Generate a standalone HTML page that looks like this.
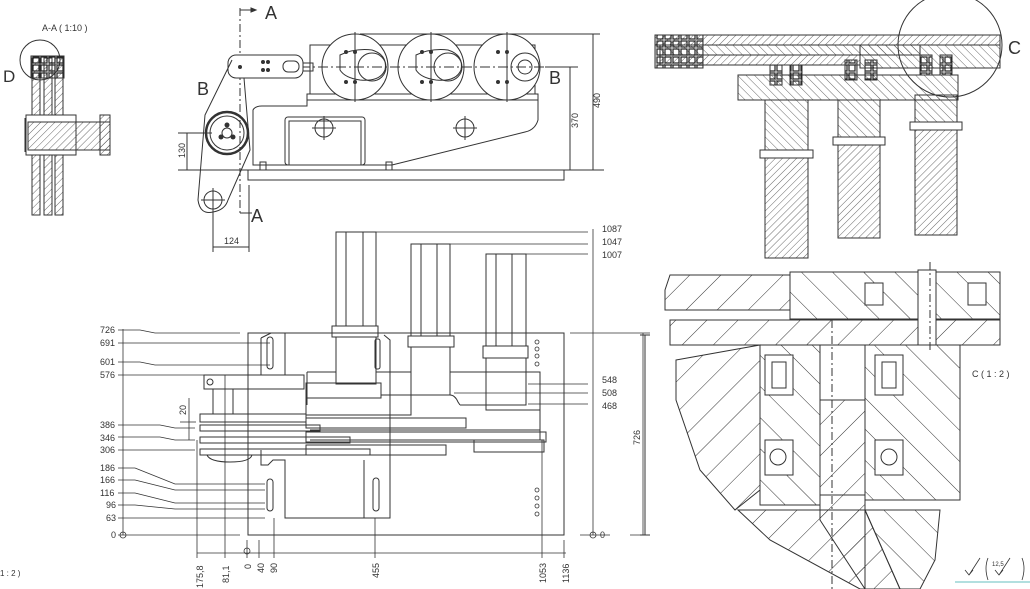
<!DOCTYPE html>
<html><head><meta charset="utf-8"><style>
html,body{margin:0;padding:0;background:#fff;}
svg{display:block;font-family:"Liberation Sans",sans-serif;}
</style></head><body>
<svg width="1030" height="589" viewBox="0 0 1030 589" xmlns="http://www.w3.org/2000/svg">
<defs>
<pattern id="h1" width="5" height="5" patternUnits="userSpaceOnUse" patternTransform="rotate(45)"><line x1="0" y1="0" x2="0" y2="5" stroke="#444" stroke-width="0.8"/></pattern>
<pattern id="h2" width="6" height="6" patternUnits="userSpaceOnUse" patternTransform="rotate(-45)"><line x1="0" y1="0" x2="0" y2="6" stroke="#444" stroke-width="0.8"/></pattern>
<pattern id="h3" width="22" height="22" patternUnits="userSpaceOnUse" patternTransform="rotate(45)"><line x1="0" y1="0" x2="0" y2="22" stroke="#333" stroke-width="1"/></pattern>
<pattern id="h4" width="22" height="22" patternUnits="userSpaceOnUse" patternTransform="rotate(-45)"><line x1="0" y1="0" x2="0" y2="22" stroke="#333" stroke-width="1"/></pattern>
<pattern id="bx" width="8" height="8" patternUnits="userSpaceOnUse"><rect x="1" y="1" width="6" height="6" fill="none" stroke="#222" stroke-width="1.2"/></pattern>
</defs>
<g fill="none" stroke="#333" stroke-width="1">

<!-- ===== A-A section (left) ===== -->
<circle cx="40" cy="60" r="20"/>
<rect x="32" y="58" width="8" height="157" fill="url(#h1)"/>
<rect x="44" y="58" width="8" height="157" fill="url(#h1)"/>
<rect x="55" y="58" width="8" height="157" fill="url(#h1)"/>
<rect x="31" y="56" width="33" height="22" fill="url(#bx)"/>
<rect x="26" y="115" width="50" height="40" fill="#fff"/>
<rect x="28" y="122" width="82" height="28" fill="url(#h1)"/>
<rect x="100" y="115" width="10" height="40" fill="url(#h1)"/>
<line x1="25" y1="118" x2="25" y2="152"/>

<!-- ===== Top elevation view ===== -->
<line x1="240" y1="8" x2="240" y2="215" stroke-dasharray="8,3,2,3"/>
<line x1="240" y1="10" x2="256" y2="10"/><path d="M256 10 l-5 -2 v4z" fill="#333"/>
<line x1="240" y1="213" x2="252" y2="213"/>
<rect x="248" y="170" width="316" height="10"/>
<path d="M253 165 L253 110 Q255 106 262 106 L307 106 L307 100 L538 100 L538 120 Q535 130 525 132 L392 165 Z"/>
<rect x="285" y="117" width="80" height="48" rx="3"/>
<rect x="289" y="121" width="72" height="44"/>
<circle cx="324" cy="128" r="9"/><line x1="312" y1="128" x2="336" y2="128"/><line x1="324" y1="116" x2="324" y2="140"/>
<circle cx="465" cy="128" r="9"/><line x1="453" y1="128" x2="477" y2="128"/><line x1="465" y1="116" x2="465" y2="140"/>
<rect x="260" y="162" width="6" height="8"/><rect x="386" y="162" width="6" height="8"/>
<rect x="307" y="94" width="231" height="6"/>
<rect x="310" y="45" width="225" height="49"/>
<g fill="#fff">
<circle cx="355" cy="67" r="33"/><circle cx="431" cy="67" r="33"/><circle cx="507" cy="67" r="33"/>
</g>
<circle cx="372" cy="67" r="14"/><circle cx="448" cy="67" r="14"/><circle cx="525" cy="67" r="14"/><circle cx="525" cy="67" r="7"/>
<path d="M340 55 Q355 48 372 50 Q388 55 385 70 Q380 82 360 80 Q345 78 340 70Z"/>
<path d="M416 55 Q431 48 448 50 Q464 55 461 70 Q456 82 436 80 Q421 78 416 70Z"/>
<line x1="355" y1="32" x2="355" y2="102"/><line x1="431" y1="32" x2="431" y2="102"/><line x1="507" y1="32" x2="507" y2="102"/>
<line x1="300" y1="67" x2="545" y2="67" stroke-dasharray="10,3,2,3"/>
<g fill="#333" stroke="none">
<circle cx="346" cy="52" r="2"/><circle cx="355" cy="52" r="2"/><circle cx="346" cy="82" r="2"/><circle cx="355" cy="82" r="2"/>
<circle cx="422" cy="52" r="2"/><circle cx="431" cy="52" r="2"/><circle cx="422" cy="82" r="2"/><circle cx="431" cy="82" r="2"/>
<circle cx="498" cy="52" r="2"/><circle cx="507" cy="52" r="2"/><circle cx="498" cy="82" r="2"/><circle cx="507" cy="82" r="2"/>
</g>
<rect x="228" y="55" width="75" height="23" rx="8" fill="#fff"/>
<rect x="303" y="63" width="10" height="8"/>
<rect x="283" y="61" width="16" height="11" rx="5"/>
<g fill="#333" stroke="none"><circle cx="263" cy="62" r="2"/><circle cx="268" cy="62" r="2"/><circle cx="263" cy="70" r="2"/><circle cx="268" cy="70" r="2"/><circle cx="240" cy="67" r="2"/></g>
<path d="M232 60 L205 115 L198 200 Q200 215 213 212 Q225 210 228 200 L250 150 L244 78"/>
<circle cx="227" cy="133" r="21" stroke-width="2.5"/>
<circle cx="227" cy="133" r="17"/>
<circle cx="227" cy="133" r="5"/>
<g fill="#333" stroke="none"><circle cx="227" cy="125" r="2.5"/><circle cx="221" cy="137" r="2.5"/><circle cx="233" cy="137" r="2.5"/></g>
<circle cx="213" cy="200" r="9"/><line x1="201" y1="200" x2="225" y2="200"/><line x1="213" y1="188" x2="213" y2="212"/>
<line x1="360" y1="34" x2="600" y2="34"/>
<line x1="545" y1="67" x2="578" y2="67"/>
<line x1="525" y1="170" x2="604" y2="170"/>
<line x1="593" y1="34" x2="593" y2="170"/>
<line x1="570" y1="67" x2="570" y2="170"/>
<line x1="178" y1="133" x2="212" y2="133"/>
<line x1="178" y1="170" x2="248" y2="170"/>
<line x1="187" y1="133" x2="187" y2="170"/>
<line x1="213" y1="210" x2="213" y2="252"/><line x1="249" y1="185" x2="249" y2="252"/>
<line x1="213" y1="247" x2="249" y2="247"/>
</g>
<g fill="#333" font-size="10">
<text x="42" y="31" font-size="9">A-A ( 1:10 )</text>
<text x="3" y="82" font-size="17">D</text>
<text x="265" y="19" font-size="18">A</text>
<text x="251" y="222" font-size="18">A</text>
<text x="197" y="95" font-size="18">B</text>
<text x="549" y="84" font-size="18">B</text>
<text x="224" y="244" font-size="9">124</text>
<text transform="translate(600,108) rotate(-90)" font-size="9">490</text>
<text transform="translate(578,128) rotate(-90)" font-size="9">370</text>
<text transform="translate(185,158) rotate(-90)" font-size="9">130</text>
</g>

<!-- ===== Plan view (bottom-left) ===== -->
<g fill="none" stroke="#333" stroke-width="1">
<rect x="248" y="333" width="316" height="202"/>
<path d="M261 338 L271 333 L285 333 L285 375 M261 338 L261 375"/>
<path d="M261 450 L261 465 L268 465 L273 460 L285 460 L285 518 L390 518 L390 340 L384 335"/>
<line x1="364" y1="460" x2="364" y2="518"/>
<rect x="336" y="232" width="40" height="94"/><line x1="346" y1="232" x2="346" y2="326"/><line x1="363" y1="232" x2="363" y2="326"/>
<rect x="332" y="326" width="46" height="11"/>
<rect x="336" y="337" width="40" height="47"/>
<rect x="411" y="244" width="39" height="92"/><line x1="421" y1="244" x2="421" y2="336"/><line x1="437" y1="244" x2="437" y2="336"/>
<rect x="408" y="336" width="46" height="11"/>
<rect x="411" y="347" width="39" height="48"/>
<rect x="486" y="254" width="40" height="92"/><line x1="496" y1="254" x2="496" y2="346"/><line x1="512" y1="254" x2="512" y2="346"/>
<rect x="483" y="346" width="45" height="12"/>
<rect x="486" y="358" width="40" height="47"/>
<path d="M307 372 L336 372 M376 372 L411 372 M450 372 L540 372 L540 440 M307 372 L307 405"/>
<rect x="306" y="383" width="75" height="15"/>
<path d="M306 398 L306 415 L411 415 L411 395 L450 395 Q455 395 458 402 L460 405"/>
<path d="M381 383 L381 395 L411 395"/>
<path d="M460 405 L486 405 L486 410 L540 410"/>
<path d="M310 430 L540 430 M310 440 L540 440"/>
<rect x="204" y="375" width="100" height="14"/>
<circle cx="210" cy="382" r="3"/>
<rect x="213" y="389" width="20" height="25"/>
<rect x="200" y="414" width="106" height="8"/>
<rect x="200" y="425" width="120" height="6"/>
<rect x="200" y="437" width="150" height="6"/>
<rect x="200" y="449" width="170" height="6"/>
<rect x="306" y="418" width="160" height="10"/>
<rect x="306" y="432" width="240" height="10"/>
<rect x="306" y="445" width="140" height="10"/>
<rect x="474" y="440" width="70" height="12"/>
<path d="M207 455 Q210 462 230 462 Q250 462 252 455"/>
<rect x="267" y="337" width="6" height="32" rx="3"/>
<rect x="267" y="479" width="6" height="32" rx="3"/>
<rect x="373" y="478" width="6" height="33" rx="3"/>
<rect x="375" y="339" width="5" height="30" rx="2"/>
</g>
<g fill="none" stroke="#333" stroke-width="0.8">
<circle cx="537" cy="342" r="2"/><circle cx="537" cy="349" r="2"/><circle cx="537" cy="356" r="2"/><circle cx="537" cy="364" r="2"/>
<circle cx="537" cy="490" r="2"/><circle cx="537" cy="498" r="2"/><circle cx="537" cy="506" r="2"/><circle cx="537" cy="514" r="2"/>
</g>
<g fill="none" stroke="#333" stroke-width="0.8">
<line x1="123" y1="329" x2="123" y2="535"/>
<line x1="118" y1="535" x2="240" y2="535"/><circle cx="123" cy="535" r="3"/>
<line x1="118" y1="330" x2="140" y2="330"/><path d="M140 330 L155 333 L240 333"/>
<line x1="118" y1="343" x2="270" y2="343"/>
<line x1="118" y1="362" x2="140" y2="362"/><path d="M140 362 L155 365 L270 365"/>
<line x1="118" y1="375" x2="215" y2="375"/>
<line x1="118" y1="425" x2="160" y2="425"/><path d="M160 425 L175 428 L195 428"/>
<line x1="118" y1="437" x2="160" y2="437"/><path d="M160 437 L175 440 L195 440"/>
<line x1="118" y1="450" x2="195" y2="450"/>
<line x1="118" y1="468" x2="135" y2="468"/><path d="M135 468 L175 484 L265 484"/>
<line x1="118" y1="480" x2="135" y2="480"/><path d="M135 480 L175 490 L265 490"/>
<line x1="118" y1="493" x2="135" y2="493"/><path d="M135 493 L175 503 L265 503"/>
<line x1="118" y1="505" x2="135" y2="505"/><path d="M135 505 L175 509 L265 509"/>
<line x1="118" y1="518" x2="265" y2="518"/>
<line x1="189" y1="398" x2="189" y2="440"/><line x1="180" y1="422" x2="196" y2="422"/>
<line x1="593" y1="229" x2="593" y2="535"/><circle cx="593" cy="535" r="3"/>
<line x1="580" y1="535" x2="610" y2="535"/>
<line x1="376" y1="232" x2="588" y2="232"/>
<line x1="450" y1="244" x2="588" y2="244"/>
<line x1="526" y1="254" x2="588" y2="254"/>
<line x1="528" y1="384" x2="588" y2="384"/>
<line x1="454" y1="393" x2="588" y2="393"/>
<line x1="528" y1="404" x2="588" y2="404"/>
<line x1="570" y1="333" x2="650" y2="333"/>
<line x1="643" y1="333" x2="643" y2="535"/>
<line x1="630" y1="535" x2="650" y2="535"/>
<line x1="197" y1="553" x2="566" y2="553"/>
<line x1="197" y1="440" x2="197" y2="558"/>
<line x1="225" y1="375" x2="225" y2="558"/>
<line x1="247" y1="540" x2="247" y2="558"/><circle cx="247" cy="551" r="3"/>
<line x1="259" y1="540" x2="259" y2="558"/>
<line x1="274" y1="518" x2="274" y2="558"/>
<line x1="375" y1="518" x2="375" y2="558"/>
<line x1="542" y1="440" x2="542" y2="558"/>
<line x1="564" y1="540" x2="564" y2="558"/>
</g>
<g fill="#333" font-size="9">
<text x="100" y="333">726</text><text x="100" y="346">691</text><text x="100" y="365">601</text><text x="100" y="378">576</text>
<text x="100" y="428">386</text><text x="100" y="441">346</text><text x="100" y="453">306</text>
<text x="100" y="471">186</text><text x="100" y="483">166</text><text x="100" y="496">116</text><text x="106" y="508">96</text><text x="106" y="521">63</text><text x="111" y="538">0</text>
<text transform="translate(186,415) rotate(-90)">20</text>
<text x="602" y="232">1087</text><text x="602" y="245">1047</text><text x="602" y="258">1007</text>
<text x="602" y="383">548</text><text x="602" y="396">508</text><text x="602" y="409">468</text>
<text x="600" y="538">0</text>
<text transform="translate(640,445) rotate(-90)">726</text>
<text transform="translate(203,588) rotate(-90)">175,8</text>
<text transform="translate(229,583) rotate(-90)">81,1</text>
<text transform="translate(251,569) rotate(-90)">0</text>
<text transform="translate(264,573) rotate(-90)">40</text>
<text transform="translate(277,573) rotate(-90)">90</text>
<text transform="translate(379,578) rotate(-90)">455</text>
<text transform="translate(546,583) rotate(-90)">1053</text>
<text transform="translate(569,583) rotate(-90)">1136</text>
<text x="0" y="576" font-size="8">1 : 2 )</text>
</g>

<!-- ===== Right top section ===== -->
<g stroke="#333" stroke-width="1">
<rect x="655" y="35" width="345" height="10" fill="url(#h1)"/>
<rect x="660" y="45" width="260" height="10" fill="url(#h2)"/>
<rect x="660" y="55" width="200" height="10" fill="url(#h1)"/>
<rect x="655" y="35" width="48" height="33" fill="url(#bx)"/>
<rect x="860" y="45" width="140" height="23" fill="url(#h2)"/>
<rect x="738" y="75" width="220" height="25" fill="url(#h2)"/>
<rect x="765" y="100" width="43" height="58" fill="url(#h2)"/>
<rect x="765" y="158" width="43" height="100" fill="url(#h1)"/>
<rect x="838" y="100" width="42" height="45" fill="url(#h2)"/>
<rect x="838" y="145" width="42" height="93" fill="url(#h1)"/>
<rect x="915" y="95" width="42" height="35" fill="url(#h2)"/>
<rect x="915" y="130" width="42" height="105" fill="url(#h1)"/>
<rect x="760" y="150" width="53" height="8" fill="#fff"/>
<rect x="833" y="137" width="52" height="8" fill="#fff"/>
<rect x="910" y="122" width="52" height="8" fill="#fff"/>
<g fill="url(#bx)"><rect x="770" y="65" width="12" height="20"/><rect x="790" y="65" width="12" height="20"/><rect x="845" y="60" width="12" height="20"/><rect x="865" y="60" width="12" height="20"/><rect x="920" y="55" width="12" height="20"/><rect x="940" y="55" width="12" height="20"/></g>
</g>
<circle cx="950" cy="45" r="52" fill="none" stroke="#333"/>
<text x="1008" y="54" font-size="18" fill="#333">C</text>

<!-- ===== Detail C ===== -->
<g stroke="#333" stroke-width="1">
<path d="M665 290 L670 275 L790 275 L790 310 L665 310Z" fill="url(#h3)"/>
<rect x="790" y="272" width="210" height="47" fill="url(#h4)"/>
<path d="M670 320 L1000 320 L1000 345 L670 345Z" fill="url(#h3)"/>
<path d="M676 360 L760 345 L760 490 L735 510 L700 470 L676 400Z" fill="url(#h3)"/>
<rect x="760" y="345" width="60" height="160" fill="url(#h4)"/>
<rect x="820" y="345" width="45" height="150" fill="#fff"/>
<path d="M820 400 L865 400 L865 589 L820 520Z" fill="url(#h3)"/>
<path d="M865 345 L960 345 L960 500 L865 500Z" fill="url(#h4)"/>
<path d="M738 510 L865 510 L900 589 L860 589 L770 540Z" fill="url(#h3)"/>
<path d="M865 510 L940 510 L935 560 L920 589 L900 589Z" fill="url(#h4)"/>
<g fill="#fff">
<rect x="765" y="355" width="28" height="40"/><rect x="772" y="362" width="14" height="26"/>
<rect x="875" y="355" width="28" height="40"/><rect x="882" y="362" width="14" height="26"/>
<rect x="765" y="440" width="28" height="35"/><circle cx="778" cy="457" r="8"/>
<rect x="875" y="440" width="28" height="35"/><circle cx="889" cy="457" r="8"/>
<rect x="865" y="283" width="18" height="22"/><rect x="968" y="283" width="18" height="22"/>
<rect x="918" y="270" width="18" height="75"/>
</g>
</g>
<line x1="832" y1="320" x2="832" y2="589" stroke="#333" stroke-dasharray="8,3,2,3"/>
<line x1="930" y1="262" x2="930" y2="350" stroke="#333" stroke-dasharray="8,3,2,3"/>
<line x1="645" y1="335" x2="645" y2="535" stroke="#333"/>
<line x1="640" y1="335" x2="650" y2="335" stroke="#333"/><line x1="640" y1="535" x2="650" y2="535" stroke="#333"/>
<text x="972" y="377" font-size="9" fill="#333">C ( 1 : 2 )</text>
<g stroke="#333" fill="none" stroke-width="0.8">
<path d="M965 570 l4 5 l4 -5 M969 575 L980 558"/>
<path d="M988 558 Q984 568 988 580 M1022 558 Q1026 568 1022 580"/>
<path d="M995 570 l4 5 l4 -5 M999 575 L1010 558"/>
<line x1="955" y1="582" x2="1030" y2="582" stroke="#3aa"/>
</g>
<text x="992" y="566" font-size="6" fill="#333">12,5</text>
</svg>
</body></html>
